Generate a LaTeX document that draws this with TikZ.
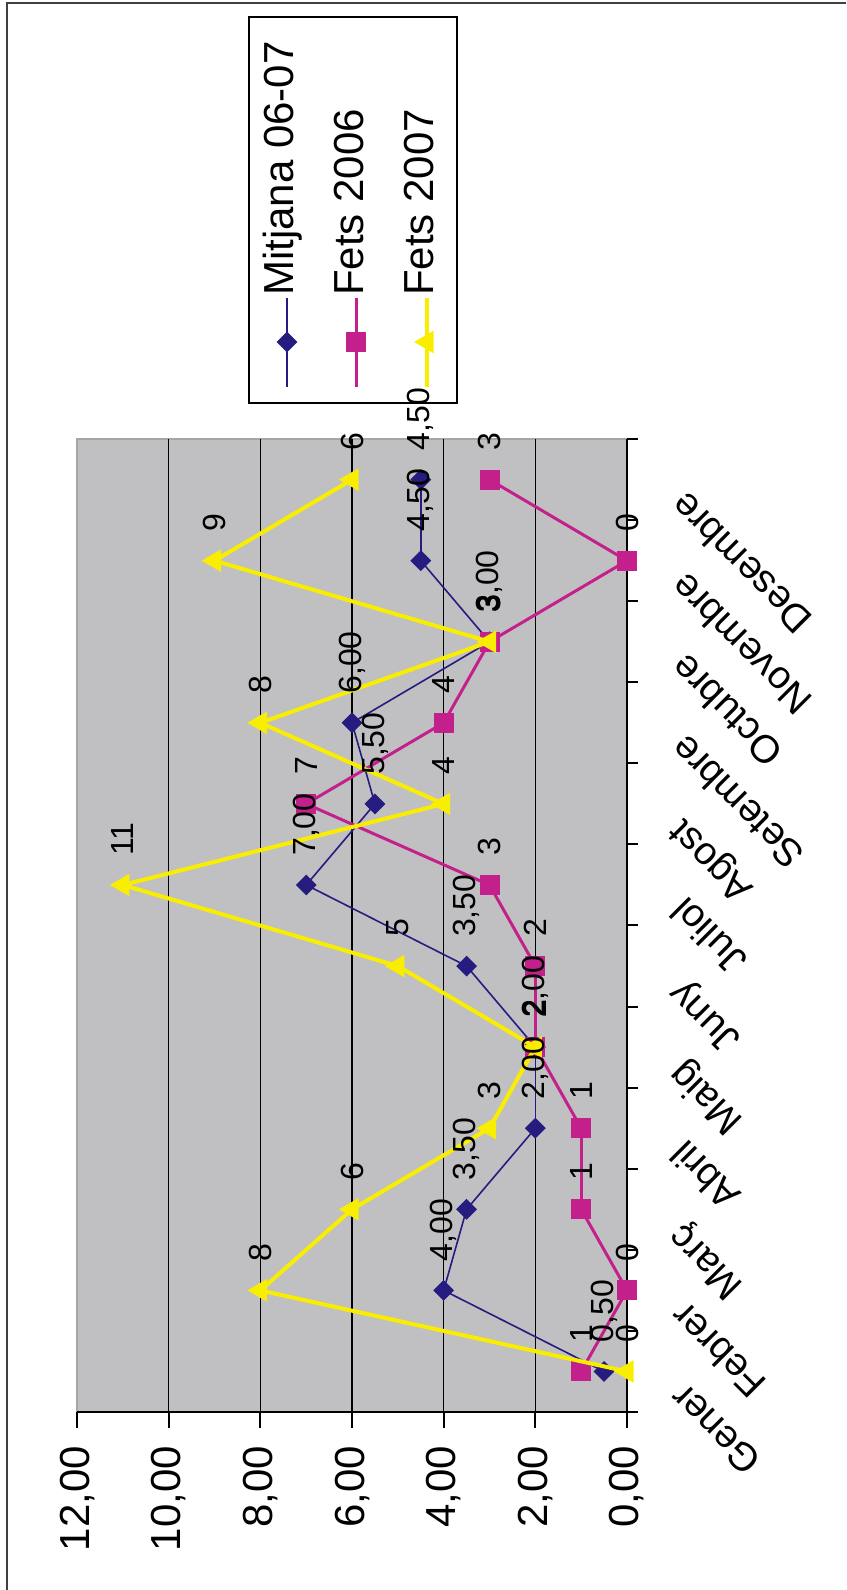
\documentclass[tikz,border=0pt]{standalone}
\usepackage{fontspec}
\setmainfont{Liberation Sans}
\usetikzlibrary{shapes.geometric}
\definecolor{serblue}{RGB}{38,28,128}
\definecolor{sermag}{RGB}{196,32,140}
\definecolor{seryel}{RGB}{250,238,0}
\definecolor{plotgray}{RGB}{192,192,194}
\tikzset{
    gridline/.style={black, line width=1.3pt},
    axisline/.style={black, line width=2.5pt},
    axtick/.style={black, line width=2pt},
    bluelink/.style={serblue, line width=1.6pt},
    maglink/.style={sermag, line width=3pt},
    yellink/.style={seryel, line width=4pt},
    bluemark/.style={diamond, fill=serblue, inner sep=0, minimum size=21pt},
    magmark/.style={rectangle, fill=sermag, inner sep=0, minimum size=20pt},
    yelmark/.style={regular polygon, regular polygon sides=3, shape border rotate=90, fill=seryel, inner sep=0, minimum size=26pt},
    datalabel/.style={rotate=90, anchor=west, inner sep=0, font=\fontsize{32}{38}\selectfont},
    vallabel/.style={rotate=90, anchor=east, inner sep=0, font=\fontsize{42}{50}\selectfont},
    monthlabel/.style={rotate=135, anchor=east, inner sep=0, font=\fontsize{39}{46}\selectfont},
    legendtext/.style={rotate=90, anchor=base west, inner sep=0, font=\fontsize{42}{50}\selectfont}
}

\begin{document}
\begin{tikzpicture}[x=1pt, y=-1pt]
    \useasboundingbox (0,0) rectangle (846,1590);
    % frame
    \draw[black!75, line width=2.5pt] (7,1590) -- (7,3) -- (846,3);

    % plot area and grid
    \fill[plotgray] (77,439) rectangle (627,1412);
    \draw[gray!70, line width=1.5pt] (77,1412) -- (77,439) -- (627,439);
    \foreach \v in {2,4,...,10}
        \draw[gridline] ({627-45.83*\v},439) -- ({627-45.83*\v},1412);

    % axes and ticks
    \draw[axisline] (77,1412) -- (627,1412);
    \draw[axisline] (627,439) -- (627,1412);
    \foreach \v in {0,2,...,12}
        \draw[axtick] ({627-45.83*\v},1412) -- ({627-45.83*\v},1428);
    \foreach \k in {0,...,12}
        \draw[axtick] (627,{439+81.08*\k}) -- (638,{439+81.08*\k});

    % value labels
    \foreach \v/\t in {0/{0,00},2/{2,00},4/{4,00},6/{6,00},8/{8,00},10/{10,00},12/{12,00}}
        \node[vallabel] (val\v) at ({627-45.83*\v},1446) {\t};

    % month labels
    \foreach \m [count=\i from 0] in {Gener,Febrer,Març,Abril,Maig,Juny,Juliol,Agost,Setembre,Octubre,Novembre,Desembre}
        \node[monthlabel] (mes\i) at (677,{1412-81.08*(\i+0.5)+20}) {\m};

    % Mitjana 06-07
    \foreach \v [count=\i from 0] in {0.5,4,3.5,2,2,3.5,7,5.5,6,3,4.5,4.5}
        \coordinate (b\i) at ({627-45.83*\v},{1412-81.08*(\i+0.5)});
    \foreach \i [evaluate=\i as \j using int(\i+1)] in {0,...,10}
        \draw[bluelink] (b\i) -- (b\j);
    \foreach \i in {0,...,11}
        \node[bluemark] (bm\i) at (b\i) {};

    % Fets 2006
    \foreach \v [count=\i from 0] in {1,0,1,1,2,2,3,7,4,3,0,3}
        \coordinate (p\i) at ({627-45.83*\v},{1412-81.08*(\i+0.5)});
    \foreach \i [evaluate=\i as \j using int(\i+1)] in {0,...,10}
        \draw[maglink] (p\i) -- (p\j);
    \foreach \i in {0,...,11}
        \node[magmark] (pm\i) at (p\i) {};

    % Fets 2007
    \foreach \v [count=\i from 0] in {0,8,6,3,2,5,11,4,8,3,9,6}
        \coordinate (y\i) at ({627-45.83*\v},{1412-81.08*(\i+0.5)});
    \foreach \i [evaluate=\i as \j using int(\i+1)] in {0,...,10}
        \draw[yellink] (y\i) -- (y\j);
    \foreach \i in {0,...,11}
        \node[yelmark] (ym\i) at (y\i) {};

    % legend
    \node[draw, line width=2pt, fill=white, minimum width=208pt, minimum height=386pt, inner sep=0] (legend) at (353,210) {};
    \draw[bluelink] (287,298) -- (287,387);
    \node[bluemark] (lgb) at (287,342) {};
    \node[legendtext] (lgbt) at (293,296) {Mitjana 06-07};
    \draw[maglink] (356,298) -- (356,387);
    \node[magmark] (lgp) at (356,342) {};
    \node[legendtext] (lgpt) at (363,296) {Fets 2006};
    \draw[yellink] (427,298) -- (427,387);
    \node[yelmark] (lgy) at (427,342) {};
    \node[legendtext] (lgyt) at (433,296) {Fets 2007};

    % data labels
    \foreach \t [count=\i from 0] in {{0,50},{4,00},{3,50},{2,00},{2,00},{3,50},{7,00},{5,50},{6,00},{3,00},{4,50},{4,50}}
        \node[datalabel] (bl\i) at ([yshift=29pt]b\i) {\t};
    \foreach \t [count=\i from 0] in {1,0,1,1,2,2,3,7,4,3,0,3}
        \node[datalabel] (pl\i) at ([yshift=29pt]p\i) {\t};
    \foreach \t [count=\i from 0] in {0,8,6,3,2,5,11,4,8,3,9,6}
        \node[datalabel] (yl\i) at ([yshift=29pt]y\i) {\t};
\end{tikzpicture}
\end{document}
